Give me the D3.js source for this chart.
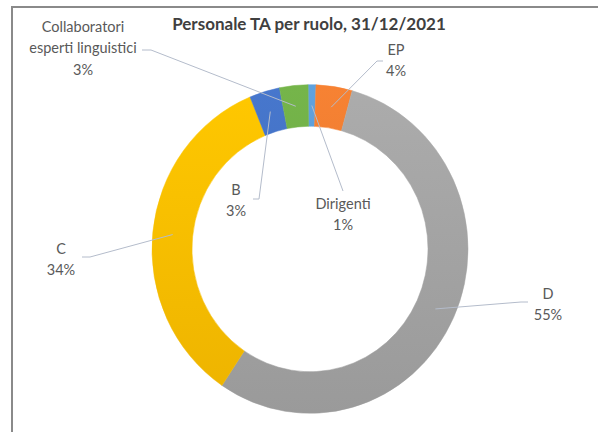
<!DOCTYPE html>
<html>
<head>
<meta charset="utf-8">
<script src="https://cdn.jsdelivr.net/npm/d3@7"></script>
<style>
  body { margin: 0; background: #fff; }
  text { font-family: Lato, "Open Sans", sans-serif; }
</style>
</head>
<body>
<svg width="598" height="432"></svg>
<script>
// dati (quote %, in senso orario dalle ore 12)
const categories = ["Dirigenti", "EP", "D", "C", "B", "Collaboratori esperti linguistici"];
const labelLines = [["Dirigenti"], ["EP"], ["D"], ["C"], ["B"], ["Collaboratori", "esperti linguistici"]];
const values = [0.8, 3.7, 55.1, 34.4, 3.1, 2.9];
const colors = ["#5B9BD5", "#ED7D31", "#A5A5A5", "#FFC000", "#4472C4", "#70AD47"];
const title = "Personale TA per ruolo, 31/12/2021";

const svg = d3.select("svg");
const cx = 310;
const cy = 249;
const rOuter = 158;
const rInner = 118;
const yStretch = 1.04; // l'anello originale è leggermente schiacciato
const startOffset = -0.7 * Math.PI / 180;

// posizione delle etichette (centro, prima riga) e punti iniziali delle linee guida
const labelLayout = {
  "Dirigenti": { x: 343, y: 203, lead: [[343, 191]] },
  "EP": { x: 396, y: 49, lead: [[383, 61], [377, 61]] },
  "D": { x: 548, y: 293, lead: [[528, 302], [521, 302]] },
  "C": { x: 61, y: 248, lead: [[82, 257], [90, 257]] },
  "B": { x: 236, y: 189, lead: [[253, 199], [259, 199]] },
  "Collaboratori esperti linguistici": { x: 83, y: 26, lead: [[142, 50], [151, 50]] }
};

// cornice
svg.append("rect")
  .attr("x", 12)
  .attr("y", 7)
  .attr("width", 620)
  .attr("height", 460)
  .attr("fill", "none")
  .attr("stroke", "#8a8a8a")
  .attr("stroke-width", 2);

// titolo
svg.append("text")
  .attr("x", 309)
  .attr("y", 23)
  .attr("text-anchor", "middle")
  .attr("dominant-baseline", "central")
  .attr("font-size", 17)
  .attr("font-weight", "bold")
  .attr("fill", "#404040")
  .text(title);

const data = categories.map((c, i) => ({ name: c, value: values[i], color: colors[i], lines: labelLines[i] }));

const pie = d3.pie()
  .sort(null)
  .value((d) => d.value)
  .startAngle(startOffset)
  .endAngle(startOffset + 2 * Math.PI);

const arc = d3.arc().innerRadius(rInner).outerRadius(rOuter);
const arcs = pie(data);

const defs = svg.append("defs");
arcs.forEach((a, i) => {
  const g = defs.append("linearGradient")
    .attr("id", "grad" + i)
    .attr("gradientUnits", "userSpaceOnUse")
    .attr("x1", 0).attr("x2", 0)
    .attr("y1", -rOuter).attr("y2", rOuter);
  g.append("stop").attr("offset", 0).attr("stop-color", d3.color(a.data.color).brighter(0.12));
  g.append("stop").attr("offset", 1).attr("stop-color", d3.color(a.data.color).darker(0.2));
});

const ring = svg.append("g")
  .attr("transform", `translate(${cx},${cy}) scale(1,${yStretch})`);

ring.selectAll("path")
  .data(arcs)
  .join("path")
  .attr("d", arc)
  .attr("fill", (d, i) => `url(#grad${i})`)
  .attr("stroke", (d, i) => `url(#grad${i})`)
  .attr("stroke-width", 0.5);

// linee guida verso il centro di ogni fetta
arcs.forEach((a) => {
  const c = arc.centroid(a);
  const anchor = [cx + c[0], cy + c[1] * yStretch];
  const lay = labelLayout[a.data.name];
  const pts = lay.lead.concat([anchor]);
  svg.append("path")
    .attr("d", d3.line()(pts))
    .attr("fill", "none")
    .attr("stroke", "#b4bccb")
    .attr("stroke-width", 1);
});

// etichette
arcs.forEach((a) => {
  const lay = labelLayout[a.data.name];
  const lines = a.data.lines.concat([Math.round(a.data.value) + "%"]);
  const t = svg.append("text")
    .attr("text-anchor", "middle")
    .attr("font-size", 14.5)
    .attr("fill", "#595959");
  lines.forEach((l, j) => {
    t.append("tspan")
      .attr("x", lay.x)
      .attr("y", lay.y + j * 21.5)
      .attr("dominant-baseline", "central")
      .text(l);
  });
});
</script>
</body>
</html>
